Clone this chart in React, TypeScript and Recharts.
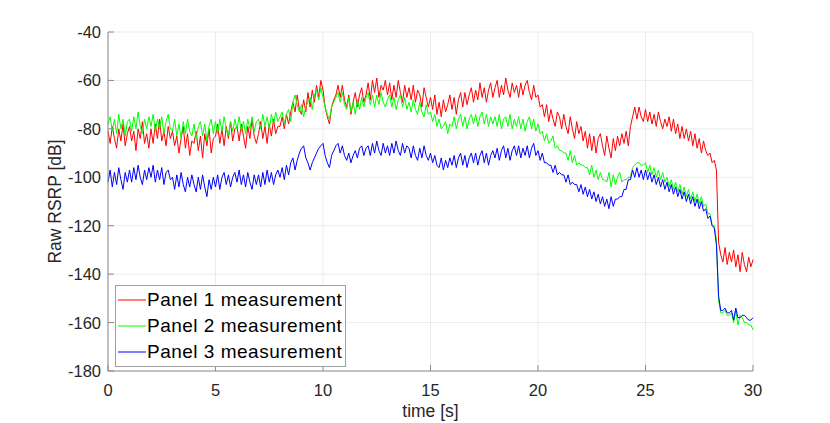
import React from "react";
import { LineChart, Line, XAxis, YAxis, CartesianGrid, Label } from "recharts";

// sampled every 0.1 s, 0..30 s
const STEP = 0.1;

const panel1 = [
  -81, -86, -79, -84, -88, -80, -85, -78, -87, -82,
  -79, -85, -81, -89, -80, -84, -77, -86, -82, -88,
  -80, -86, -78, -84, -76, -85, -81, -87, -79, -84,
  -81, -87, -83, -90, -84, -79, -88, -82, -91, -85,
  -86, -81, -89, -83, -92, -82, -87, -80, -90, -84,
  -83, -78, -86, -80, -87, -79, -84, -77, -85, -80,
  -79, -85, -78, -83, -88, -79, -84, -76, -83, -86,
  -82, -77, -84, -79, -86, -78, -83, -76, -82, -79,
  -79, -75, -80, -74, -78, -73, -69, -73, -66, -72,
  -74, -68, -73, -65, -71, -64, -69, -62, -67, -60,
  -64, -71, -75, -78, -71, -68, -66, -62, -67, -62,
  -68, -71, -66, -74, -69, -65, -71, -66, -63, -69,
  -66, -61, -68, -60, -65, -59, -67, -62, -64, -60,
  -66, -61, -68, -62, -67, -60, -65, -69, -62, -67,
  -63, -68, -62, -69, -64, -66, -71, -63, -67, -71,
  -67, -72, -66, -74, -69, -75, -68, -73, -70, -66,
  -72, -67, -74, -68, -65, -71, -65, -70, -66, -63,
  -69, -64, -68, -61, -67, -63, -69, -64, -61, -67,
  -63, -60, -67, -62, -66, -59, -64, -67, -61, -65,
  -62, -67, -61, -66, -62, -60, -65, -68, -62, -67,
  -66, -71, -70, -75, -70, -77, -72, -76, -79, -73,
  -75, -80, -74, -79, -82, -75, -80, -84, -77, -82,
  -79, -85, -81, -88, -82, -89, -83, -90, -84, -82,
  -87, -91, -83, -88, -92, -84, -89, -83, -87, -82,
  -86, -81, -87, -79, -75, -71, -76, -71, -75, -77,
  -72, -77, -73, -78, -74, -79, -73, -77, -80, -76,
  -79, -75, -81, -76, -82, -78, -84, -79, -84, -80,
  -85, -81, -87, -82, -88, -84, -90, -85, -89, -91,
  -90, -94, -93, -97, -127, -132, -135, -129, -136, -131,
  -135, -130, -137, -132, -139, -131, -136, -139, -133, -137,
  -134,
];

const panel2 = [
  -78, -75, -81, -76, -82, -74, -80, -76, -83, -77,
  -76, -81, -75, -80, -73, -79, -82, -76, -80, -75,
  -79, -74, -81, -76, -80, -75, -82, -77, -74, -80,
  -81, -76, -83, -78, -84, -77, -82, -76, -81, -83,
  -78, -84, -79, -77, -83, -78, -85, -79, -76, -82,
  -77, -82, -76, -81, -75, -80, -83, -77, -81, -76,
  -80, -75, -81, -77, -82, -76, -80, -75, -81, -77,
  -76, -80, -74, -79, -75, -80, -74, -78, -73, -77,
  -75, -73, -78, -74, -72, -77, -69, -66, -70, -73,
  -70, -75, -71, -69, -67, -72, -66, -64, -68, -63,
  -67, -71, -74, -76, -71, -69, -67, -65, -69, -65,
  -70, -72, -67, -73, -69, -74, -68, -72, -67, -71,
  -67, -65, -70, -66, -71, -66, -70, -65, -69, -71,
  -68, -66, -71, -67, -72, -68, -66, -71, -67, -72,
  -69, -73, -68, -72, -74, -69, -73, -75, -70, -74,
  -73, -77, -74, -79, -76, -80, -79, -77, -82, -78,
  -79, -75, -80, -76, -74, -79, -75, -80, -76, -74,
  -78, -74, -79, -75, -73, -78, -74, -79, -75, -78,
  -75, -79, -74, -80, -76, -75, -79, -74, -80, -76,
  -79, -75, -80, -76, -81, -77, -75, -80, -76, -81,
  -78, -82, -81, -85, -82, -86, -85, -83, -88, -87,
  -89, -89, -90, -90, -93, -89, -94, -91, -95, -94,
  -95, -95, -96, -96, -99, -95, -100, -97, -101, -98,
  -101, -101, -102, -98, -104, -99, -103, -100, -98, -102,
  -101, -101, -100, -100, -96, -95, -94, -94, -95, -95,
  -94, -98, -95, -99, -96, -100, -97, -101, -98, -102,
  -100, -104, -101, -105, -102, -106, -103, -107, -104, -108,
  -105, -109, -106, -110, -107, -111, -108, -112, -111, -115,
  -115, -120, -120, -126, -151, -156, -156, -155, -157, -157,
  -156, -160, -155, -161, -157, -158, -160, -160, -161, -161,
  -163,
];

const panel3 = [
  -102, -97, -104, -98, -103, -96, -101, -105, -98, -102,
  -97, -102, -96, -101, -95, -100, -103, -97, -101, -96,
  -100, -95, -102, -97, -101, -96, -103, -98, -97, -101,
  -100, -105, -99, -104, -98, -103, -106, -100, -104, -99,
  -103, -106, -100, -105, -99, -104, -108, -101, -105, -100,
  -104, -99, -105, -100, -98, -103, -99, -104, -100, -98,
  -102, -97, -103, -99, -104, -98, -102, -105, -99, -103,
  -99, -104, -98, -103, -97, -102, -98, -103, -99, -97,
  -100, -96, -101, -95, -99, -94, -92, -97, -93, -90,
  -88, -87, -92, -94, -97, -94, -92, -90, -88, -87,
  -86, -91, -94, -96, -91, -89, -87, -86, -90, -87,
  -91, -93, -90, -94, -91, -89, -92, -88, -87, -91,
  -88, -87, -91, -86, -90, -85, -89, -91, -86, -90,
  -87, -91, -86, -90, -85, -89, -91, -86, -90, -87,
  -88, -92, -87, -91, -93, -88, -92, -87, -91, -93,
  -90, -94, -91, -95, -96, -92, -97, -93, -96, -92,
  -95, -91, -96, -92, -90, -95, -91, -96, -92, -90,
  -94, -90, -95, -91, -89, -94, -90, -95, -91, -89,
  -92, -88, -93, -89, -87, -92, -88, -93, -89, -87,
  -91, -87, -92, -88, -91, -87, -92, -88, -86, -91,
  -89, -93, -90, -94, -94, -95, -95, -98, -95, -99,
  -98, -99, -99, -102, -99, -103, -102, -103, -103, -106,
  -103, -107, -104, -108, -105, -109, -106, -110, -107, -111,
  -108, -112, -109, -113, -108, -112, -109, -109, -108, -108,
  -105, -105, -101, -101, -97, -100, -96, -100, -97, -101,
  -97, -101, -98, -102, -99, -103, -100, -104, -101, -105,
  -102, -106, -103, -107, -104, -108, -105, -109, -106, -110,
  -107, -111, -108, -112, -109, -113, -110, -114, -113, -117,
  -116, -120, -121, -128, -149, -155, -155, -154, -156, -156,
  -155, -159, -154, -158, -158, -157, -157, -158, -159, -159,
  -158,
];

const xTicks = [0, 5, 10, 15, 20, 25, 30];
const yTicks = [-180, -160, -140, -120, -100, -80, -60, -40];

const seriesNames = ["Panel 1 measurement", "Panel 2 measurement", "Panel 3 measurement"];
const seriesColors = ["#ff0000", "#00ff00", "#0000ff"];

const data = panel1.map((v, i) => ({
  t: Math.round(i * STEP * 10) / 10,
  p1: v,
  p2: panel2[i],
  p3: panel3[i],
}));

const FONT = "'Liberation Sans', Arial, sans-serif";
const TEXT = "#262626";
const AXIS = "#8c8c8c";

function XTick({ x, y, payload }: any) {
  return (
    <g>
      <line x1={x} y1={y} x2={x} y2={y - 6} stroke={AXIS} />
      <text x={x} y={y + 25} textAnchor="middle" fill={TEXT} fontSize={16.5} fontFamily={FONT}>
        {payload.value}
      </text>
    </g>
  );
}

function YTick({ x, y, payload }: any) {
  return (
    <g>
      <line x1={x} y1={y} x2={x + 6} y2={y} stroke={AXIS} />
      <text x={x - 7} y={y + 6} textAnchor="end" fill={TEXT} fontSize={16.5} fontFamily={FONT}>
        {payload.value}
      </text>
    </g>
  );
}

function LegendBox() {
  return (
    <div
      style={{
        position: "absolute",
        left: 115,
        top: 285,
        border: "1px solid #a0a0a0",
        background: "#fff",
        padding: "1px 3px 1px 2px",
        fontFamily: FONT,
        fontSize: 19,
        letterSpacing: 0.5,
        color: "#000",
      }}
    >
      {seriesNames.map((name, i) => (
        <div key={name} style={{ display: "flex", alignItems: "center", height: 26 }}>
          <svg width={28} height={4} style={{ marginRight: 1 }}>
            <line x1={0} y1={2} x2={28} y2={2} stroke={seriesColors[i]} strokeWidth={1} />
          </svg>
          <span>{name}</span>
        </div>
      ))}
    </div>
  );
}

export default function App() {
  return (
    <div style={{ position: "absolute", left: 0, top: 0, width: 830, height: 423, background: "#fff" }}>
      <LineChart
        width={830}
        height={423}
        data={data}
        margin={{ top: 32, right: 77, bottom: 0, left: 0 }}
      >
        <CartesianGrid stroke="#ebebeb" strokeWidth={1} />
        <XAxis
          dataKey="t"
          type="number"
          domain={[0, 30]}
          ticks={xTicks}
          tickLine={false}
          tickSize={0}
          tickMargin={0}
          height={52}
          stroke={AXIS}
          tick={<XTick />}
          interval={0}
        >
          <Label
            value="time [s]"
            position="insideBottom"
            offset={6}
            fill={TEXT}
            fontSize={17.5}
            fontFamily={FONT}
          />
        </XAxis>
        <YAxis
          type="number"
          domain={[-180, -40]}
          ticks={yTicks}
          width={108}
          tickLine={false}
          tickSize={0}
          tickMargin={0}
          stroke={AXIS}
          tick={<YTick />}
          interval={0}
        >
          <Label
            value="Raw RSRP [dB]"
            angle={-90}
            position="insideLeft"
            offset={55}
            style={{ textAnchor: "middle" }}
            fill={TEXT}
            fontSize={17.5}
            fontFamily={FONT}
          />
        </YAxis>
        <Line dataKey="p1" name={seriesNames[0]} stroke={seriesColors[0]} strokeWidth={1} dot={false} isAnimationActive={false} />
        <Line dataKey="p2" name={seriesNames[1]} stroke={seriesColors[1]} strokeWidth={1} dot={false} isAnimationActive={false} />
        <Line dataKey="p3" name={seriesNames[2]} stroke={seriesColors[2]} strokeWidth={1} dot={false} isAnimationActive={false} />
      </LineChart>
      <LegendBox />
    </div>
  );
}
